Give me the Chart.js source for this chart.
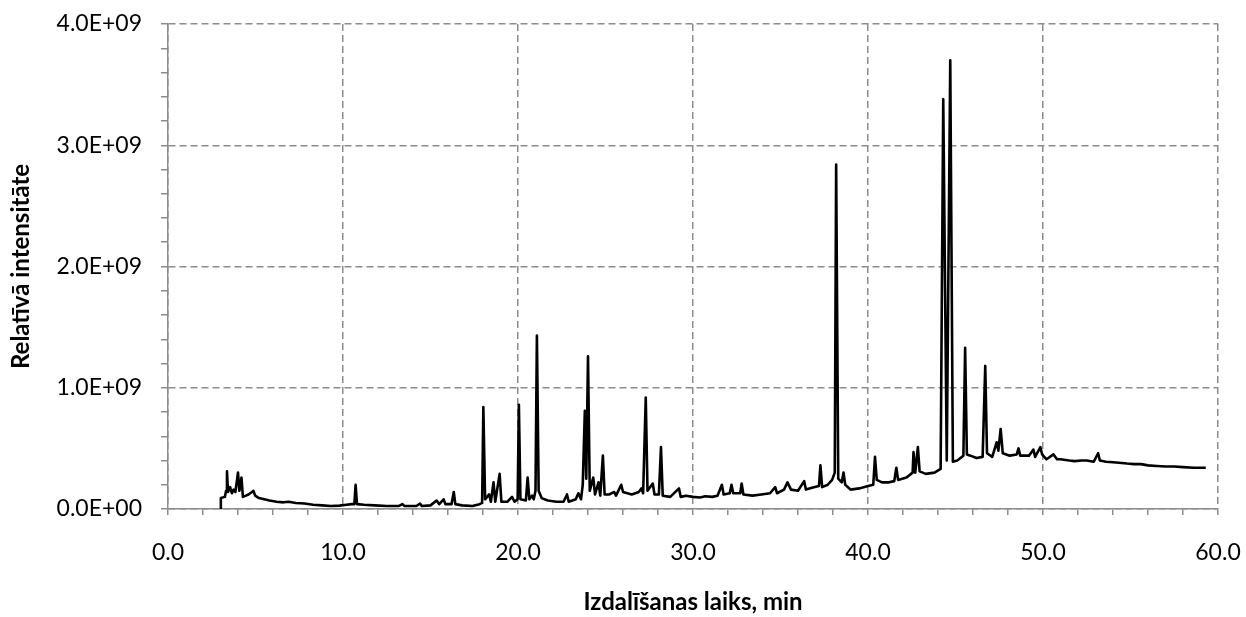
<!DOCTYPE html>
<html>
<head>
<meta charset="utf-8">
<title>Hromatogramma</title>
<script src="https://cdn.jsdelivr.net/npm/chart.js@4.4.1/dist/chart.umd.min.js"></script>
<style>
    html, body { margin: 0; padding: 0; background: #ffffff; }
    #wrap { width: 1246px; height: 617px; }
</style>
</head>
<body>
<div id="wrap"><canvas id="chrom" width="1246" height="617"></canvas></div>
<script>
// izdalīšanas laiks, min
const retTime = [
    3.00, 3.02, 3.25, 3.32, 3.37, 3.43, 3.55, 3.65, 3.75, 3.85, 4.00, 4.08, 4.20, 4.28, 4.45, 4.60, 4.80, 4.88, 4.98,
    5.20, 5.50, 5.80, 6.20, 6.60, 6.90, 7.30, 7.80, 8.30, 8.80, 9.30, 9.80, 10.20, 10.50, 10.65, 10.72, 10.80,
    11.20, 11.80, 12.50, 13.20, 13.40, 13.50, 14.20, 14.40, 14.50, 15.00, 15.35, 15.50, 15.75, 15.85, 16.20, 16.33, 16.42, 16.80, 17.40, 17.80, 17.95,
    18.02, 18.12, 18.35, 18.45, 18.60, 18.70, 18.95, 19.05, 19.40, 19.66, 19.80, 19.98, 20.05, 20.14, 20.45, 20.55, 20.65, 20.80, 20.90, 21.00, 21.08, 21.18, 21.35,
    21.70, 22.20, 22.60, 22.80, 22.90, 23.30, 23.45, 23.60, 23.70, 23.82, 23.90, 24.00, 24.10, 24.30, 24.40, 24.60, 24.70, 24.85, 24.95, 25.20,
    25.50, 25.60, 25.90, 26.00, 26.50, 26.90, 27.05, 27.15, 27.30, 27.40, 27.70, 27.80, 28.05, 28.17, 28.27, 28.70, 29.20, 29.30, 29.60,
    30.00, 30.40, 30.70, 31.10, 31.40, 31.65, 31.75, 32.10, 32.20, 32.30, 32.70, 32.78, 32.88, 33.40, 33.90, 34.40,
    34.70, 34.80, 35.20, 35.40, 35.60, 36.00, 36.35, 36.45, 36.90, 37.20, 37.28, 37.38, 37.70, 37.95, 38.10,
    38.18, 38.30, 38.50, 38.60, 38.70, 39.00, 39.50, 40.00, 40.30, 40.40, 40.50, 40.80, 41.20, 41.50, 41.62, 41.72, 42.20,
    42.55, 42.60, 42.70, 42.85, 42.95, 43.30, 43.80, 44.15, 44.30, 44.50, 44.70, 44.85, 45.10, 45.45, 45.55, 45.65, 45.85, 46.20,
    46.55, 46.70, 46.80, 47.10, 47.35, 47.45, 47.58, 47.70, 48.10, 48.50, 48.60, 48.70, 49.20, 49.45, 49.55, 49.85, 49.95, 50.20,
    50.60, 50.80, 51.00, 51.50, 51.80, 52.20, 52.50, 52.90, 53.15, 53.25, 53.60, 54.00, 54.50, 54.80, 55.20, 55.60, 56.00, 56.50, 57.00, 57.50, 58.00, 58.60, 59.30
];

// relatīvā intensitāte, ×10^9 (rindas atbilst retTime rindām)
const intensity = [
    0.00, 0.09, 0.10, 0.15, 0.31, 0.14, 0.18, 0.13, 0.16, 0.14, 0.30, 0.15, 0.26, 0.10, 0.11, 0.12, 0.14, 0.15, 0.11,
    0.09, 0.08, 0.07, 0.06, 0.055, 0.06, 0.05, 0.045, 0.035, 0.03, 0.025, 0.028, 0.035, 0.04, 0.04, 0.20, 0.04,
    0.035, 0.03, 0.025, 0.025, 0.04, 0.025, 0.025, 0.045, 0.025, 0.03, 0.07, 0.04, 0.08, 0.04, 0.04, 0.14, 0.04, 0.03, 0.025, 0.04, 0.05,
    0.84, 0.08, 0.12, 0.06, 0.22, 0.06, 0.29, 0.06, 0.06, 0.10, 0.06, 0.08, 0.86, 0.08, 0.07, 0.26, 0.08, 0.11, 0.08, 0.15, 1.43, 0.15, 0.09,
    0.07, 0.06, 0.06, 0.12, 0.06, 0.08, 0.13, 0.08, 0.20, 0.81, 0.25, 1.26, 0.15, 0.26, 0.12, 0.22, 0.11, 0.44, 0.12, 0.12,
    0.14, 0.11, 0.20, 0.14, 0.12, 0.14, 0.17, 0.13, 0.92, 0.15, 0.21, 0.12, 0.12, 0.51, 0.11, 0.10, 0.17, 0.10, 0.11,
    0.10, 0.095, 0.105, 0.10, 0.11, 0.20, 0.12, 0.13, 0.20, 0.13, 0.13, 0.21, 0.12, 0.11, 0.12, 0.13,
    0.18, 0.13, 0.16, 0.22, 0.16, 0.15, 0.23, 0.16, 0.18, 0.19, 0.36, 0.18, 0.20, 0.24, 0.30,
    2.84, 0.25, 0.22, 0.30, 0.20, 0.16, 0.17, 0.19, 0.20, 0.43, 0.24, 0.22, 0.22, 0.23, 0.34, 0.24, 0.26,
    0.30, 0.47, 0.30, 0.51, 0.31, 0.29, 0.30, 0.33, 3.38, 0.40, 3.70, 0.39, 0.40, 0.44, 1.33, 0.45, 0.44, 0.42,
    0.43, 1.18, 0.46, 0.43, 0.55, 0.48, 0.66, 0.46, 0.44, 0.45, 0.50, 0.44, 0.44, 0.49, 0.43, 0.51, 0.45, 0.41,
    0.45, 0.41, 0.41, 0.40, 0.395, 0.40, 0.40, 0.39, 0.46, 0.40, 0.39, 0.385, 0.38, 0.375, 0.37, 0.37, 0.36, 0.355, 0.35, 0.35, 0.345, 0.34, 0.34
];

const GRID_GRAY = '#8c8c8c';
const FONT = 'Lato, "Open Sans", sans-serif';

function isMultiple(v, step) {
    const r = v / step;
    return Math.abs(r - Math.round(r)) < 1e-6;
}

// 1.0E+09 formāts kā Excel
function sciLabel(v) {
    if (v === 0) return '0.0E+00';
    return (v / 1e9).toFixed(1) + 'E+09';
}

const points = retTime.map((t, i) => ({ x: t, y: intensity[i] * 1e9 }));

new Chart(document.getElementById('chrom'), {
    type: 'line',
    data: {
        datasets: [{
            data: points,
            borderColor: '#000000',
            borderWidth: 2.6,
            borderJoinStyle: 'round',
            pointRadius: 0,
            tension: 0,
            fill: false
        }]
    },
    options: {
        responsive: false,
        animation: false,
        layout: { padding: { left: 0, right: 28, top: 24, bottom: 0 } },
        plugins: { legend: { display: false }, tooltip: { enabled: false } },
        scales: {
            x: {
                type: 'linear',
                min: 0,
                max: 60,
                afterFit: (s) => {
                    s.height = 108;
                    s.paddingLeft = 0;
                    s.paddingRight = 0;
                },
                border: { display: true, color: GRID_GRAY, width: 1.5, dash: [7, 4] },
                grid: {
                    color: (ctx) => isMultiple(ctx.tick.value, 10) ? GRID_GRAY : 'transparent',
                    lineWidth: 1.5,
                    tickColor: GRID_GRAY,
                    tickWidth: 1.5,
                    tickLength: 6
                },
                ticks: {
                    stepSize: 2,
                    autoSkip: false,
                    maxRotation: 0,
                    padding: 24,
                    color: '#000000',
                    font: { family: FONT, size: 23 },
                    callback: (v) => isMultiple(v, 10) ? v.toFixed(1) : ''
                },
                title: {
                    display: true,
                    text: 'Izdalīšanas laiks, min',
                    color: '#000000',
                    font: { family: FONT, size: 24, weight: 'bold' },
                    padding: { top: 0, bottom: 0 }
                }
            },
            y: {
                min: 0,
                max: 4e9,
                afterFit: (s) => {
                    s.width = 168;
                    s.paddingTop = 0;
                    s.paddingBottom = 0;
                },
                border: { display: true, color: GRID_GRAY, width: 1.5, dash: [7, 4] },
                grid: {
                    color: (ctx) => isMultiple(ctx.tick.value, 1e9) ? GRID_GRAY : 'transparent',
                    lineWidth: 1.5,
                    tickColor: GRID_GRAY,
                    tickWidth: 1.5,
                    tickLength: 7
                },
                ticks: {
                    stepSize: 2e8,
                    autoSkip: false,
                    padding: 19,
                    color: '#000000',
                    font: { family: FONT, size: 23 },
                    callback: (v) => isMultiple(v, 1e9) ? sciLabel(v) : ''
                },
                title: {
                    display: true,
                    text: 'Relatīvā intensitāte',
                    color: '#000000',
                    font: { family: FONT, size: 24, weight: 'bold' },
                    padding: { top: 7, bottom: 0 }
                }
            }
        }
    }
});
</script>
</body>
</html>
